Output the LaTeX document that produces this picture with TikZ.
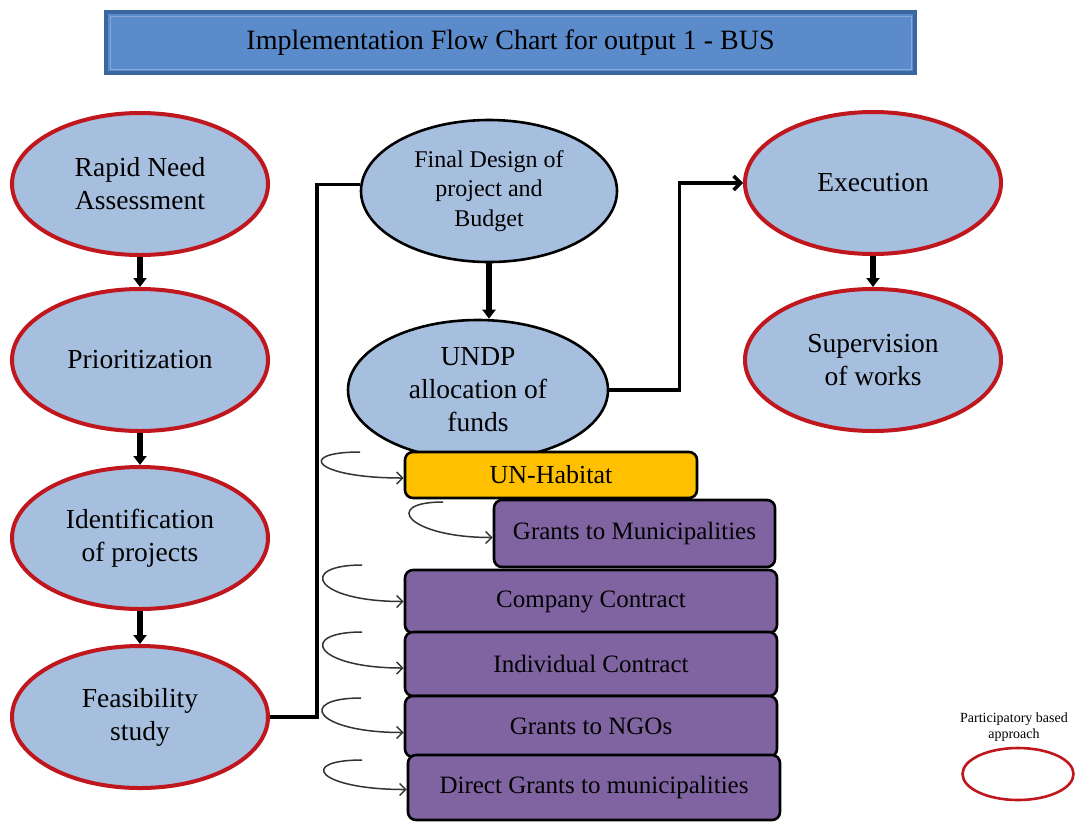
\documentclass[tikz,border=0pt]{standalone}
\usepackage{fontspec}
\setmainfont{Liberation Serif}
\usetikzlibrary{shapes.geometric,arrows.meta}
\definecolor{paleblue}{HTML}{A7BFDE}
\definecolor{redline}{HTML}{C0161E}
\definecolor{banner}{HTML}{5B8BCB}
\definecolor{bannerline}{HTML}{3B67A0}
\definecolor{bannerlite}{HTML}{86A9DA}
\definecolor{grape}{HTML}{8064A2}
\definecolor{amber}{HTML}{FFC000}
\newcommand{\fs}[2]{\fontsize{#1}{#2}\selectfont}

\begin{document}
\begin{tikzpicture}[x=1pt,y=-1pt,
    stage/.style={ellipse,draw=redline,line width=4pt,fill=paleblue,
      minimum width=256,minimum height=142,inner sep=0pt,align=center,font=\fs{27.5}{33}},
    plan/.style={stage,draw=black,line width=2.6pt},
    route/.style={rectangle,rounded corners=8pt,draw=black,line width=2.6pt,fill=grape,
      minimum width=372,minimum height=63,font=\fs{25}{30}},
    down/.style={line width=5.5pt,-{Triangle[length=9pt,width=13pt]}},
    link/.style={line width=3.4pt},
    curl/.style={line width=1.5pt,draw=black!80,-{Straight Barb[length=6pt,width=12pt]}}]
    \useasboundingbox (0,0) rectangle (1083,823);
    \node[draw=bannerline,line width=4pt,fill=banner,minimum width=809,minimum height=61,
      font=\fs{28}{32}] (T) at (510.5,42.5) {Implementation Flow Chart for output 1 - BUS};
    \draw[bannerlite,line width=1pt] ([shift={(6,-6)}]T.south west) rectangle ([shift={(-6,6)}]T.north east);
    \node[stage] (RNA) at (140,184) {Rapid Need\\Assessment};
    \node[stage] (PR) at (140,360) {Prioritization};
    \node[stage] (ID) at (140,538) {Identification\\of projects};
    \node[stage] (FS) at (140,717) {Feasibility\\study};
    \node[plan,font=\fs{24}{29.5}] (FD) at (489,191) {Final Design of\\project and\\Budget};
    \node[plan,minimum width=260,minimum height=140] (UN) at (478,390) {UNDP\\allocation of\\funds};
    \node[stage] (EX) at (873,183) {Execution};
    \node[stage] (SV) at (873,360) {Supervision\\of works};
    \node[route,fill=amber,minimum width=292,minimum height=46,font=\fs{26}{30}] (UNH) at (551,475) {UN-Habitat};
    \node[route,minimum width=281,minimum height=67] (GM) at (634.5,533.5) {Grants to Municipalities};
    \node[route] (CC) at (591,601.5) {Company Contract};
    \node[route,minimum height=64] (IC) at (591,664) {Individual Contract};
    \node[route,minimum height=61] (NGO) at (591,726.5) {Grants to NGOs};
    \node[route,minimum height=65] (DG) at (594,787.5) {Direct Grants to municipalities};
    \node[font=\fs{14}{16},align=center] (note) at (1014,727) {Participatory based\\approach};
    \node[ellipse,draw=redline,line width=2.6pt,minimum width=111,minimum height=52] (key) at (1018,774) {};
    \coordinate (c1) at (360,452);
    \coordinate (c2) at (443,502);
    \coordinate (c3) at (362,565);
    \coordinate (c4) at (362,632);
    \coordinate (c5) at (361,698);
    \coordinate (c6) at (362,760);
    \draw[down] (RNA) -- (PR);
    \draw[down] (PR) -- (ID);
    \draw[down] (ID) -- (FS);
    \draw[down] (FD.south) -- (FD.south |- UN.north);
    \draw[down] (EX) -- (SV);
    \draw[link] (FS.east) -- ++(47,0) |- (FD.177);
    \draw[link,-{Straight Barb[length=7pt,width=14pt]}] (UN.east) -- ++(70,0) |- (EX.west);
    \draw[curl] (c1) .. controls +(-65,0) and +(-90,0) .. ([yshift=-3pt]UNH.west);
    \draw[curl] (c2) .. controls +(-62,0) and +(-85,0) .. ([yshift=-4pt]GM.west);
    \draw[curl] (c3) .. controls +(-65,0) and +(-90,0) .. (CC.west);
    \draw[curl] (c4) .. controls +(-65,0) and +(-90,0) .. ([yshift=-4pt]IC.west);
    \draw[curl] (c5) .. controls +(-65,0) and +(-90,0) .. ([yshift=-6pt]NGO.west);
    \draw[curl] (c6) .. controls +(-65,0) and +(-90,0) .. ([yshift=-2pt]DG.west);
\end{tikzpicture}
\end{document}
